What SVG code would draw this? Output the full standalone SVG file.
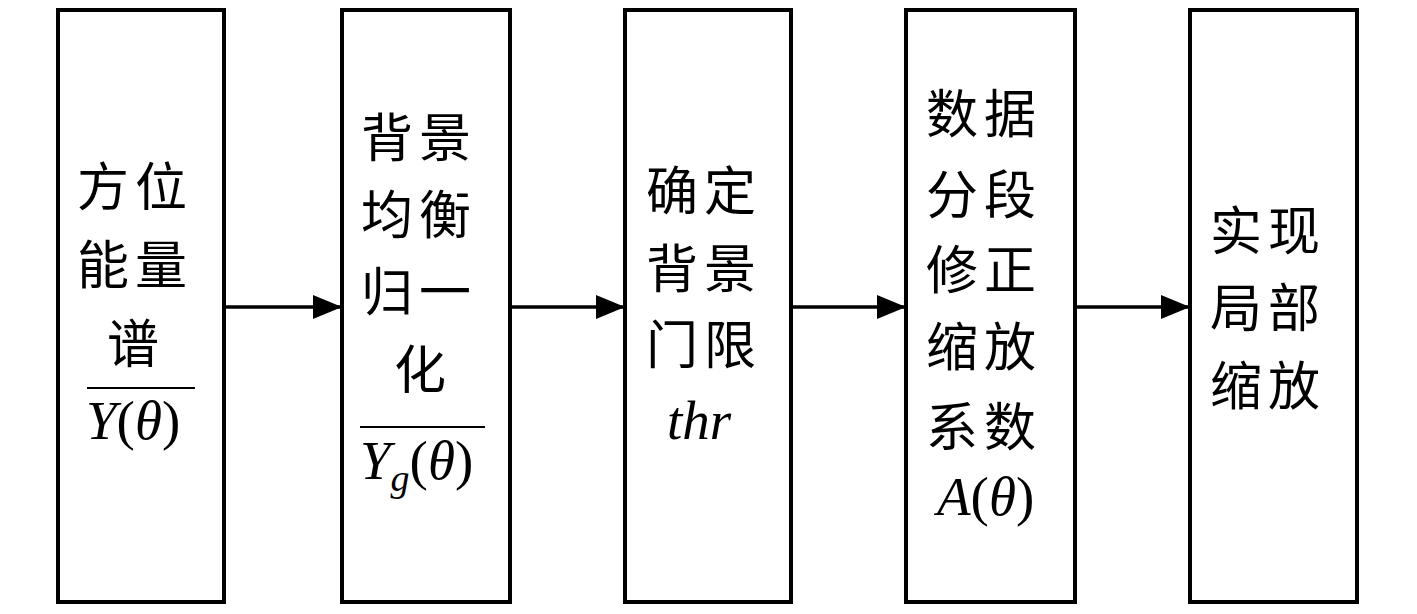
<svg xmlns="http://www.w3.org/2000/svg" width="1417" height="614" viewBox="0 0 1417 614">
<style>
.box{fill:#fff;stroke:#000;stroke-width:4}
.cn{font-family:"Noto Sans CJK SC","Noto Sans CJK JP",sans-serif;font-size:52px;fill:#000;letter-spacing:6px}
.m{font-family:"Liberation Serif","Times New Roman",serif;font-size:55px;fill:#000}
.i{font-style:italic}
.conn{stroke:#000;stroke-width:3.5;fill:none}
.ov{stroke:#000;stroke-width:2}
</style>
<defs>
<marker id="ah" markerUnits="userSpaceOnUse" markerWidth="30" markerHeight="24" refX="29" refY="12" orient="auto">
<path d="M0,0 L29,12 L0,24 Z" fill="#000"/>
</marker>
</defs>
<rect width="1417" height="614" fill="#fff"/>
<g id="connectors">
<line class="conn" x1="224" y1="307" x2="342" y2="307" marker-end="url(#ah)"/>
<line class="conn" x1="510" y1="307" x2="625" y2="307" marker-end="url(#ah)"/>
<line class="conn" x1="791" y1="307" x2="906" y2="307" marker-end="url(#ah)"/>
<line class="conn" x1="1075" y1="307" x2="1190" y2="307" marker-end="url(#ah)"/>
</g>
<g id="node1">
<rect class="box" x="58" y="10" width="166" height="592"/>
<text class="cn" x="77" y="206">方位</text>
<text class="cn" x="77" y="284">能量</text>
<text class="cn" x="107" y="363">谱</text>
<line class="ov" x1="87" y1="388" x2="195" y2="388"/>
<text class="m" x="86" y="439"><tspan class="i">Y</tspan>(<tspan class="i">θ</tspan>)</text>
</g>
<g id="node2">
<rect class="box" x="342" y="10" width="168" height="592"/>
<text class="cn" x="361" y="157">背景</text>
<text class="cn" x="361" y="234">均衡</text>
<text class="cn" x="361" y="311">归一</text>
<text class="cn" x="394" y="389">化</text>
<line class="ov" x1="360" y1="427" x2="485" y2="427"/>
<text class="m" x="360" y="479"><tspan class="i">Y</tspan><tspan class="i" font-size="38" dy="12">g</tspan><tspan dy="-12">(</tspan><tspan class="i">θ</tspan>)</text>
</g>
<g id="node3">
<rect class="box" x="625" y="10" width="166" height="592"/>
<text class="cn" x="646" y="210">确定</text>
<text class="cn" x="646" y="288">背景</text>
<text class="cn" x="646" y="364">门限</text>
<text class="m i" x="667" y="439">thr</text>
</g>
<g id="node4">
<rect class="box" x="906" y="10" width="169" height="592"/>
<text class="cn" x="926" y="133">数据</text>
<text class="cn" x="926" y="214">分段</text>
<text class="cn" x="926" y="289">修正</text>
<text class="cn" x="926" y="366">缩放</text>
<text class="cn" x="926" y="446">系数</text>
<text class="m" x="937" y="515"><tspan class="i">A</tspan>(<tspan class="i">θ</tspan>)</text>
</g>
<g id="node5">
<rect class="box" x="1190" y="10" width="167" height="592"/>
<text class="cn" x="1210" y="250">实现</text>
<text class="cn" x="1210" y="327">局部</text>
<text class="cn" x="1210" y="405">缩放</text>
</g>
</svg>
